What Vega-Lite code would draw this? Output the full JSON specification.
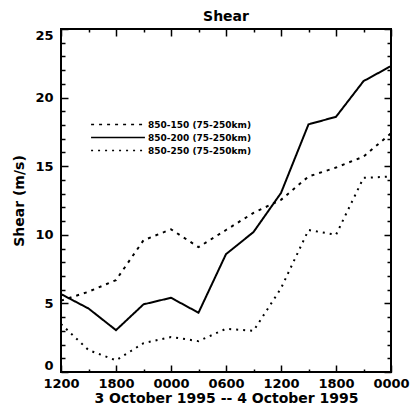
{
  "$schema": "https://vega.github.io/schema/vega-lite/v6.json",
  "width": 330,
  "height": 343,
  "autosize": "none",
  "padding": {"left": 61, "top": 29, "right": 20, "bottom": 44},
  "background": "white",
  "title": {"text": "Shear", "fontSize": 14, "font": "DejaVu Sans", "fontWeight": "bold", "offset": 4, "color": "black"},
  "config": {
    "view": {"stroke": "black", "strokeWidth": 2},
    "axis": {"domain": false, "grid": false, "tickColor": "black", "tickWidth": 1.5, "labelColor": "black", "titleColor": "black", "labelFont": "DejaVu Sans", "titleFont": "DejaVu Sans", "labelFontWeight": "bold", "titleFontWeight": "bold"}
  },
  "data": {"values": [
    {"h": 0, "series": "850-150 (75-250km)", "v": 5.2},
    {"h": 3, "series": "850-150 (75-250km)", "v": 5.85},
    {"h": 6, "series": "850-150 (75-250km)", "v": 6.7},
    {"h": 9, "series": "850-150 (75-250km)", "v": 9.6},
    {"h": 12, "series": "850-150 (75-250km)", "v": 10.4},
    {"h": 15, "series": "850-150 (75-250km)", "v": 9.1},
    {"h": 18, "series": "850-150 (75-250km)", "v": 10.35},
    {"h": 21, "series": "850-150 (75-250km)", "v": 11.6},
    {"h": 24, "series": "850-150 (75-250km)", "v": 12.55},
    {"h": 27, "series": "850-150 (75-250km)", "v": 14.25},
    {"h": 30, "series": "850-150 (75-250km)", "v": 14.9},
    {"h": 33, "series": "850-150 (75-250km)", "v": 15.7},
    {"h": 36, "series": "850-150 (75-250km)", "v": 17.4},
    {"h": 0, "series": "850-200 (75-250km)", "v": 5.68},
    {"h": 3, "series": "850-200 (75-250km)", "v": 4.63},
    {"h": 6, "series": "850-200 (75-250km)", "v": 3.05},
    {"h": 9, "series": "850-200 (75-250km)", "v": 4.93},
    {"h": 12, "series": "850-200 (75-250km)", "v": 5.41},
    {"h": 15, "series": "850-200 (75-250km)", "v": 4.32},
    {"h": 18, "series": "850-200 (75-250km)", "v": 8.59},
    {"h": 21, "series": "850-200 (75-250km)", "v": 10.2},
    {"h": 24, "series": "850-200 (75-250km)", "v": 13.05},
    {"h": 27, "series": "850-200 (75-250km)", "v": 18.05},
    {"h": 30, "series": "850-200 (75-250km)", "v": 18.6},
    {"h": 33, "series": "850-200 (75-250km)", "v": 21.2},
    {"h": 36, "series": "850-200 (75-250km)", "v": 22.3},
    {"h": 0, "series": "850-250 (75-250km)", "v": 3.5},
    {"h": 3, "series": "850-250 (75-250km)", "v": 1.6},
    {"h": 6, "series": "850-250 (75-250km)", "v": 0.85},
    {"h": 9, "series": "850-250 (75-250km)", "v": 2.1},
    {"h": 12, "series": "850-250 (75-250km)", "v": 2.55},
    {"h": 15, "series": "850-250 (75-250km)", "v": 2.25},
    {"h": 18, "series": "850-250 (75-250km)", "v": 3.15},
    {"h": 21, "series": "850-250 (75-250km)", "v": 3.0},
    {"h": 24, "series": "850-250 (75-250km)", "v": 6.1},
    {"h": 27, "series": "850-250 (75-250km)", "v": 10.35},
    {"h": 30, "series": "850-250 (75-250km)", "v": 10.0},
    {"h": 33, "series": "850-250 (75-250km)", "v": 14.15},
    {"h": 36, "series": "850-250 (75-250km)", "v": 14.25}
  ]},
  "resolve": {"axis": {"x": "independent", "y": "independent"}},
  "layer": [
    {
      "mark": {"type": "line", "color": "black", "strokeWidth": 2},
      "encoding": {
        "x": {"field": "h", "type": "quantitative", "scale": {"domain": [0, 36], "nice": false},
          "axis": {"orient": "bottom", "values": [0, 6, 12, 18, 24, 30, 36], "tickSize": -7, "labelPadding": 12, "labelFontSize": 13, "labelColor": "black", "labelExpr": "format(((datum.value + 12) % 24) * 100, '04d')", "title": "3 October 1995 -- 4 October 1995", "titleFontSize": 14, "titleColor": "black", "titlePadding": 1, "labelFlush": false}},
        "y": {"field": "v", "type": "quantitative", "scale": {"domain": [0, 25], "nice": false},
          "axis": {"orient": "left", "values": [0, 5, 10, 15, 20, 25], "tickSize": -7, "labelPadding": 15, "labelFontSize": 13, "labelColor": "black", "labelFlush": true, "labelFlushOffset": 0, "title": "Shear (m/s)", "titleFontSize": 14, "titleColor": "black", "titlePadding": 8}},
        "strokeDash": {"field": "series", "type": "nominal",
          "scale": {"domain": ["850-150 (75-250km)", "850-200 (75-250km)", "850-250 (75-250km)"], "range": [[3, 5], [1, 0], [2, 5]]},
          "legend": {"orient": "none", "legendX": 29, "legendY": 89, "title": null, "symbolType": "stroke", "symbolSize": 2900, "symbolStrokeWidth": 1.5, "symbolStrokeColor": "black", "clipHeight": 13, "rowPadding": 0, "labelFontSize": 9, "labelFont": "DejaVu Sans", "labelFontWeight": "bold", "labelColor": "black", "labelOffset": 2}}
      }
    },
    {
      "mark": {"type": "line", "opacity": 0},
      "encoding": {
        "x": {"field": "h", "type": "quantitative", "axis": {"orient": "top", "values": [0, 6, 12, 18, 24, 30, 36], "tickSize": -7, "labels": false, "title": null}},
        "y": {"field": "v", "type": "quantitative", "axis": {"orient": "right", "values": [0, 5, 10, 15, 20, 25], "tickSize": -7, "labels": false, "title": null}},
        "detail": {"field": "series"}
      }
    },
    {
      "mark": {"type": "line", "opacity": 0},
      "encoding": {
        "x": {"field": "h", "type": "quantitative", "axis": {"orient": "bottom", "values": [3, 9, 15, 21, 27, 33], "tickSize": -3, "labels": false, "title": null}},
        "y": {"field": "v", "type": "quantitative", "axis": {"orient": "left", "values": [1, 2, 3, 4, 6, 7, 8, 9, 11, 12, 13, 14, 16, 17, 18, 19, 21, 22, 23, 24], "tickSize": -4, "labels": false, "title": null}},
        "detail": {"field": "series"}
      }
    },
    {
      "mark": {"type": "line", "opacity": 0},
      "encoding": {
        "x": {"field": "h", "type": "quantitative", "axis": {"orient": "top", "values": [3, 9, 15, 21, 27, 33], "tickSize": -3, "labels": false, "title": null}},
        "y": {"field": "v", "type": "quantitative", "axis": {"orient": "right", "values": [1, 2, 3, 4, 6, 7, 8, 9, 11, 12, 13, 14, 16, 17, 18, 19, 21, 22, 23, 24], "tickSize": -4, "labels": false, "title": null}},
        "detail": {"field": "series"}
      }
    }
  ]
}
